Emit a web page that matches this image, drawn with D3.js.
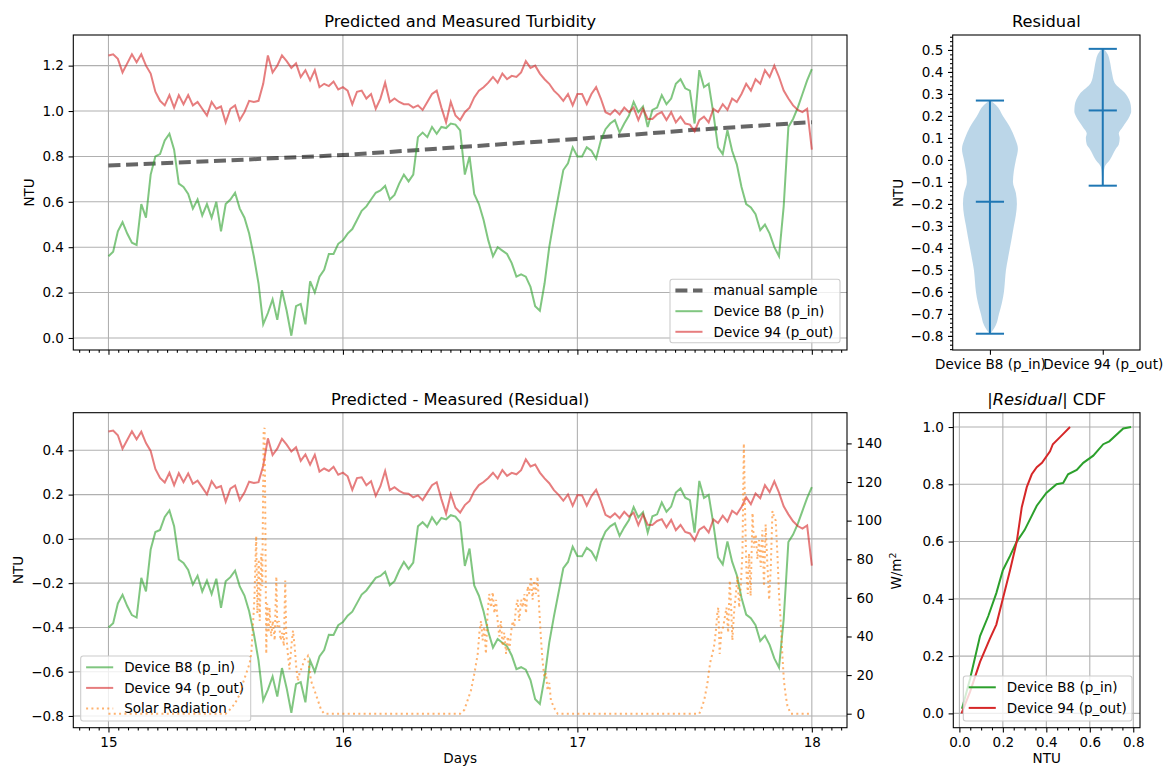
<!DOCTYPE html>
<html>
<head>
<meta charset="utf-8">
<script src="https://cdn.jsdelivr.net/npm/d3@7"></script>
<style>
  body { margin: 0; background: #fff; }
  svg { font-family: "DejaVu Sans", sans-serif; font-size: 13.5px; }
</style>
</head>
<body>
<div id="chart"></div>
<script>
// ---- data ----
// sample times, every 0.02 day from day 15 to day 18
const days = d3.range(151).map(i => 15 + i / 50);

const b8Ntu = [
  0.36,0.38,0.47,0.51,0.46,0.42,0.41,0.59,0.53,0.72, 0.80,0.81,0.87,0.90,0.83,0.68,0.665,0.635,0.57,0.61,
  0.54,0.59,0.53,0.60,0.47,0.59,0.61,0.64,0.57,0.53, 0.46,0.36,0.24,0.06,0.11,0.17,0.08,0.21,0.12,0.01,
  0.14,0.15,0.06,0.25,0.20,0.27,0.30,0.37,0.37,0.415, 0.43,
  0.46,0.48,0.52,0.56,0.58,0.61,0.64,0.65,0.67,0.61, 0.63,0.68,0.72,0.69,0.72,0.885,0.905,0.885,0.93,0.90,
  0.93,0.925,0.945,0.94,0.915,0.72,0.80,0.635,0.59,0.52, 0.43,0.36,0.40,0.385,0.37,0.33,0.27,0.28,0.27,0.225,
  0.14,0.12,0.24,0.40,0.52,0.63,0.74,0.77,0.84,0.80,
  0.80,0.84,0.825,0.79,0.87,0.92,0.945,0.96,0.905,0.945, 0.98,1.04,0.995,1.02,0.93,1.005,1.015,1.07,1.03,1.055,
  1.12,1.14,1.10,1.09,0.945,1.18,1.105,1.12,0.99,0.84, 0.81,0.915,0.825,0.765,0.665,0.59,0.575,0.545,0.475,0.50,
  0.46,0.40,0.36,0.58,0.93,0.965,1.015,1.075,1.135,1.185
];

const p94Ntu = [
  1.245,1.25,1.23,1.17,1.21,1.25,1.215,1.25,1.20,1.165, 1.085,1.045,1.025,1.07,1.015,1.07,1.03,1.07,1.025,1.04,
  1.01,0.98,1.04,1.01,1.02,0.95,1.01,1.025,0.96,0.995, 1.045,1.04,1.045,1.12,1.245,1.17,1.20,1.245,1.22,1.19,
  1.21,1.15,1.18,1.135,1.18,1.105,1.12,1.11,1.13,1.095, 1.105,
  1.09,1.03,1.085,1.09,1.055,1.075,1.01,1.055,1.125,1.04, 1.055,1.04,1.03,1.03,1.015,1.025,1.005,1.04,1.075,1.09,
  1.015,0.95,1.04,0.98,0.96,0.995,1.015,1.06,1.09,1.105, 1.125,1.15,1.125,1.165,1.14,1.155,1.15,1.17,1.22,1.19,
  1.20,1.165,1.14,1.12,1.09,1.07,1.045,1.075,1.025,1.075,
  1.075,1.03,1.075,1.105,1.055,0.995,0.985,1.005,0.985,1.015, 0.995,1.015,0.96,1.01,0.965,0.965,0.985,0.995,0.96,0.995,
  0.95,0.975,0.945,0.94,0.91,0.96,0.975,0.95,1.01,0.995, 1.03,1.005,1.055,1.04,1.075,1.12,1.09,1.14,1.12,1.18,
  1.15,1.20,1.15,1.09,1.055,1.025,1.005,0.995,1.01,0.83
];

const manualDays = [15, 15.5, 16, 16.5, 17, 17.5, 18];
const manualNtu = [0.76, 0.782, 0.806, 0.841, 0.877, 0.917, 0.951];

const solarDays = [
  15.00,15.50,15.517,15.538,15.56,15.574,15.588,15.602,15.609,15.616,15.623,15.63,15.635,15.641,15.645,15.652,
  15.656,15.662,15.666,15.669,15.673,15.677,15.683,15.687,15.694,15.701,15.709,15.716,15.72,15.727,15.734,15.741,
  15.748,15.754,15.758,15.765,15.772,15.78,15.787,15.794,15.801,15.808,15.815,15.825,15.836,15.85,15.857,15.864,
  15.879,15.893,15.907,15.92,
  16.50,16.518,16.532,16.546,16.561,16.575,16.582,16.589,16.596,16.603,16.61,16.617,16.624,16.632,16.639,16.646,
  16.653,16.66,16.667,16.674,16.681,16.688,16.696,16.703,16.71,16.717,16.724,16.731,16.738,16.745,16.752,16.76,
  16.767,16.774,16.781,16.788,16.795,16.802,16.809,16.816,16.823,16.83,16.837,16.844,16.851,16.859,16.866,16.873,
  16.88,16.887,16.901,16.916,
  17.52,17.527,17.541,17.555,17.562,17.569,17.576,17.583,17.59,17.597,17.601,17.607,17.614,17.622,17.629,17.636,
  17.643,17.65,17.656,17.661,17.668,17.676,17.683,17.69,17.697,17.704,17.71,17.716,17.721,17.727,17.732,17.739,
  17.747,17.754,17.761,17.768,17.775,17.782,17.789,17.796,17.803,17.81,17.818,17.825,17.832,17.839,17.846,17.853,
  17.86,17.867,17.874,17.881,17.889,17.896,17.91,18.00
];
const solarWm2 = [
  0,0,2,5,10,16,21,26,31,45,61,92,52,80,48,83,
  66,147,148,100,31,57,42,55,40,48,38,71,45,48,38,42,
  35,69,42,31,23,35,43,35,24,17,21,24,28,30,23,17,
  12,7,2,0,
  0,2,7,12,21,31,42,48,38,45,31,52,62,55,63,52,
  59,48,40,48,35,42,31,40,33,42,48,45,55,59,48,59,
  55,62,52,66,62,71,59,69,62,71,55,40,28,19,21,12,
  16,7,3,0,
  0,2,7,16,23,28,31,35,42,52,55,31,42,45,50,55,
  42,69,55,38,52,62,71,55,66,83,140,100,74,62,83,61,
  104,86,93,80,90,76,95,66,98,78,59,76,105,102,100,83,
  62,48,31,17,9,4,0,0
];

// violin outlines: NTU level and half width (in x units) of each body
const violinB8Ntu = [0.27,0.25,0.2,0.15,0.1,0.05,0,-0.05,-0.1,-0.15,-0.2,-0.25,-0.3,-0.35,-0.4,-0.45,-0.5,-0.55,-0.6,-0.65,-0.7,-0.75,-0.79];
const violinB8Half = [0.004,0.053,0.115,0.177,0.221,0.248,0.230,0.212,0.204,0.230,0.239,0.230,0.212,0.195,0.177,0.159,0.142,0.133,0.124,0.106,0.080,0.053,0.004];
const violin94Ntu = [0.505,0.48,0.45,0.4,0.35,0.3,0.25,0.22,0.2,0.15,0.12,0.1,0.07,0.05,0.0,-0.03,-0.06,-0.117];
const violin94Half = [0.009,0.044,0.062,0.080,0.106,0.204,0.248,0.252,0.239,0.177,0.142,0.150,0.142,0.115,0.062,0.018,0.009,0.004];
const violinMin = [-0.79, -0.117];
const violinMax = [0.27, 0.505];
const violinMean = [-0.19, 0.225];

// |residual| CDF curves
const cdfB8Ntu = [0.012,0.049,0.095,0.133,0.17,0.2,0.233,0.264,0.30,0.356,0.40,0.447,0.478,0.50,0.54,0.57,0.616,0.662,0.69,0.754,0.79];
const cdfB8P = [0.016,0.12,0.27,0.34,0.42,0.50,0.55,0.60,0.64,0.725,0.77,0.80,0.805,0.835,0.85,0.875,0.90,0.94,0.95,0.995,1.0];
const cdf94Ntu = [0.01,0.049,0.095,0.14,0.17,0.2,0.233,0.264,0.287,0.31,0.333,0.356,0.38,0.417,0.43,0.47,0.509];
const cdf94P = [0.0,0.075,0.18,0.26,0.31,0.40,0.50,0.60,0.72,0.79,0.835,0.86,0.875,0.915,0.94,0.97,1.0];

// tick labels
const dayTicks = [15, 16, 17, 18];
const topNtuTicks = [0, 0.2, 0.4, 0.6, 0.8, 1.0, 1.2];
const residualTicks = [-0.8, -0.6, -0.4, -0.2, 0, 0.2, 0.4];
const solarTicks = [0, 20, 40, 60, 80, 100, 120, 140];
const violinTicks = [-0.8, -0.7, -0.6, -0.5, -0.4, -0.3, -0.2, -0.1, 0, 0.1, 0.2, 0.3, 0.4, 0.5];
const cdfXTicks = [0, 0.2, 0.4, 0.6, 0.8];
const cdfYTicks = [0, 0.2, 0.4, 0.6, 0.8, 1.0];
const deviceNames = ["Device B8 (p_in)", "Device 94 (p_out)"];

// residual = predicted - manual sample
const manualAt = d3.scaleLinear().domain(manualDays).range(manualNtu);
const b8Residual = b8Ntu.map((v, i) => v - manualAt(days[i]));
const p94Residual = p94Ntu.map((v, i) => v - manualAt(days[i]));

// ---- drawing ----
const W = 1169, H = 767;
const GREEN = "#2ca02c", RED = "#d62728", BLUE = "#1f77b4", ORANGE = "#ff7f0e";
const TICK = 4.7, MINOR = 2.7, PAD = 4.7, LW = 1.08;

const svg = d3.select("#chart").append("svg")
  .attr("width", W).attr("height", H)
  .style("background", "#fff");

const tl = { x0: 73.3, x1: 847, y0: 35, y1: 350 };
const tr = { x0: 952.7, x1: 1140, y0: 35, y1: 350 };
const bl = { x0: 73.3, x1: 847, y0: 412.7, y1: 727.7 };
const br = { x0: 953.3, x1: 1140, y0: 412.7, y1: 727.7 };

function axis(gen, tx, ty, size, fmt) {
  const g = svg.append("g").attr("transform", `translate(${tx},${ty})`)
    .call(gen.tickSize(size).tickPadding(PAD).tickFormat(fmt));
  g.attr("font-family", null).attr("font-size", null);
  g.select(".domain").remove();
  g.selectAll(".tick line").attr("stroke", "#000").attr("stroke-width", LW);
  g.selectAll(".tick text").attr("fill", "#000");
  return g;
}

function gridX(x, ticks, p) {
  svg.append("g").selectAll("line").data(ticks).join("line")
    .attr("x1", d => x(d)).attr("x2", d => x(d))
    .attr("y1", p.y0).attr("y2", p.y1)
    .attr("stroke", "#b0b0b0").attr("stroke-width", LW);
}
function gridY(y, ticks, p) {
  svg.append("g").selectAll("line").data(ticks).join("line")
    .attr("y1", d => y(d)).attr("y2", d => y(d))
    .attr("x1", p.x0).attr("x2", p.x1)
    .attr("stroke", "#b0b0b0").attr("stroke-width", LW);
}
function frame(p) {
  svg.append("rect").attr("x", p.x0).attr("y", p.y0)
    .attr("width", p.x1 - p.x0).attr("height", p.y1 - p.y0)
    .attr("fill", "none").attr("stroke", "#000").attr("stroke-width", LW);
}
function title(p, txt) {
  return svg.append("text").attr("x", (p.x0 + p.x1) / 2).attr("y", p.y0 - 7.7)
    .attr("text-anchor", "middle").style("font-size", "16.25px").text(txt);
}
function yLabel(x, y, txt) {
  return svg.append("text").attr("transform", `translate(${x},${y}) rotate(-90)`)
    .attr("text-anchor", "middle").text(txt);
}
function legend(box, rows) {
  const g = svg.append("g");
  g.append("rect").attr("x", box.x).attr("y", box.y).attr("width", box.w).attr("height", box.h)
    .attr("rx", 2.5).attr("fill", "#fff").attr("fill-opacity", 0.8)
    .attr("stroke", "#cccccc").attr("stroke-width", LW);
  rows.forEach((r, i) => {
    const cy = box.y + 11.3 + i * 20.6;
    g.append("line").attr("x1", box.x + 5.4).attr("x2", box.x + 32.5)
      .attr("y1", cy).attr("y2", cy)
      .attr("stroke", r.color).attr("stroke-opacity", r.opacity)
      .attr("stroke-width", r.width).attr("stroke-dasharray", r.dash || null);
    g.append("text").attr("x", box.x + 43.5).attr("y", cy).attr("dy", "0.36em").text(r.label);
  });
}
const fmt1 = d3.format(".1f");
const minorHours = d3.range(357, 436).filter(i => i % 24 !== 0).map(i => i / 24);

// ---------- top left: predicted and measured ----------
const xDay = d3.scaleLinear().domain([14.85, 18.15]).range([tl.x0, tl.x1]);
const yTop = d3.scaleLinear().domain([-0.053, 1.335]).range([tl.y1, tl.y0]);

gridX(xDay, dayTicks, tl);
gridY(yTop, topNtuTicks, tl);

const lineTop = d3.line().x((d, i) => xDay(days[i])).y(d => yTop(d));
svg.append("path").datum(manualNtu)
  .attr("d", d3.line().x((d, i) => xDay(manualDays[i])).y(d => yTop(d)))
  .attr("fill", "none").attr("stroke", "#000").attr("stroke-opacity", 0.6)
  .attr("stroke-width", 4).attr("stroke-dasharray", "12,5.6");
svg.append("path").datum(b8Ntu).attr("d", lineTop)
  .attr("fill", "none").attr("stroke", GREEN).attr("stroke-opacity", 0.6).attr("stroke-width", 2);
svg.append("path").datum(p94Ntu).attr("d", lineTop)
  .attr("fill", "none").attr("stroke", RED).attr("stroke-opacity", 0.6).attr("stroke-width", 2);

axis(d3.axisBottom(xDay).tickValues(dayTicks), 0, tl.y1, TICK, () => "");
axis(d3.axisBottom(xDay).tickValues(minorHours), 0, tl.y1, MINOR, () => "");
axis(d3.axisLeft(yTop).tickValues(topNtuTicks), tl.x0, 0, TICK, fmt1);
frame(tl);
title(tl, "Predicted and Measured Turbidity");
yLabel(34.3, (tl.y0 + tl.y1) / 2, "NTU");
legend({ x: 670, y: 279.3, w: 170, h: 63.4 }, [
  { label: "manual sample", color: "#000", opacity: 0.6, width: 4, dash: "12,5.6" },
  { label: deviceNames[0], color: GREEN, opacity: 0.6, width: 2 },
  { label: deviceNames[1], color: RED, opacity: 0.6, width: 2 }
]);

// ---------- bottom left: residual + solar radiation ----------
const xDayB = d3.scaleLinear().domain([14.85, 18.15]).range([bl.x0, bl.x1]);
const yRes = d3.scaleLinear().domain([-0.853, 0.570]).range([bl.y1, bl.y0]);
const ySolar = d3.scaleLinear().domain([-7.25, 155.9]).range([bl.y1, bl.y0]);

gridX(xDayB, dayTicks, bl);
gridY(yRes, residualTicks, bl);

const lineRes = d3.line().x((d, i) => xDayB(days[i])).y(d => yRes(d));
svg.append("path").datum(b8Residual).attr("d", lineRes)
  .attr("fill", "none").attr("stroke", GREEN).attr("stroke-opacity", 0.6).attr("stroke-width", 2);
svg.append("path").datum(p94Residual).attr("d", lineRes)
  .attr("fill", "none").attr("stroke", RED).attr("stroke-opacity", 0.6).attr("stroke-width", 2);

legend({ x: 80.7, y: 656, w: 170, h: 65 }, [
  { label: deviceNames[0], color: GREEN, opacity: 0.6, width: 2 },
  { label: deviceNames[1], color: RED, opacity: 0.6, width: 2 },
  { label: "Solar Radiation", color: ORANGE, opacity: 0.6, width: 2, dash: "2,3.3" }
]);

svg.append("path").datum(solarWm2)
  .attr("d", d3.line().x((d, i) => xDayB(solarDays[i])).y(d => ySolar(d)))
  .attr("fill", "none").attr("stroke", ORANGE).attr("stroke-opacity", 0.6)
  .attr("stroke-width", 2).attr("stroke-dasharray", "2,3.3");

axis(d3.axisBottom(xDayB).tickValues(dayTicks), 0, bl.y1, TICK, d3.format("d"));
axis(d3.axisBottom(xDayB).tickValues(minorHours), 0, bl.y1, MINOR, () => "");
axis(d3.axisLeft(yRes).tickValues(residualTicks), bl.x0, 0, TICK, fmt1);
axis(d3.axisRight(ySolar).tickValues(solarTicks), bl.x1, 0, TICK, d3.format("d"));
frame(bl);
title(bl, "Predicted - Measured (Residual)");
yLabel(23.3, 570, "NTU");
const wm = svg.append("text").attr("transform", `translate(900.5,571) rotate(-90)`).attr("text-anchor", "middle");
wm.append("tspan").text("W/m");
wm.append("tspan").attr("dy", "-0.45em").style("font-size", "9.5px").text("2");
svg.append("text").attr("x", (bl.x0 + bl.x1) / 2).attr("y", 763.3).attr("text-anchor", "middle").text("Days");

// ---------- top right: residual violins ----------
const xViolin = d3.scaleLinear().domain([0.67, 2.33]).range([tr.x0, tr.x1]);
const yViolin = d3.scaleLinear().domain([-0.864, 0.568]).range([tr.y1, tr.y0]);
const violins = [
  { pos: 1, ntu: violinB8Ntu, half: violinB8Half },
  { pos: 2, ntu: violin94Ntu, half: violin94Half }
];
violins.forEach((v, k) => {
  const pts = v.ntu.map((n, i) => ({ n, h: v.half[i] }));
  svg.append("path").datum(pts)
    .attr("d", d3.area().curve(d3.curveMonotoneY)
      .y(d => yViolin(d.n))
      .x0(d => xViolin(v.pos - d.h))
      .x1(d => xViolin(v.pos + d.h)))
    .attr("fill", BLUE).attr("fill-opacity", 0.3);
  const g = svg.append("g").attr("stroke", BLUE).attr("stroke-width", 2);
  g.append("line").attr("x1", xViolin(v.pos)).attr("x2", xViolin(v.pos))
    .attr("y1", yViolin(violinMin[k])).attr("y2", yViolin(violinMax[k]));
  [violinMin[k], violinMax[k], violinMean[k]].forEach(val => {
    g.append("line").attr("x1", xViolin(v.pos - 0.125)).attr("x2", xViolin(v.pos + 0.125))
      .attr("y1", yViolin(val)).attr("y2", yViolin(val));
  });
});
const violinMinor = d3.range(-43, 29).map(i => i / 50);
axis(d3.axisLeft(yViolin).tickValues(violinMinor), tr.x0, 0, MINOR, () => "");
axis(d3.axisLeft(yViolin).tickValues(violinTicks), tr.x0, 0, TICK, fmt1);
axis(d3.axisBottom(xViolin).tickValues([1, 2]), 0, tr.y1, TICK, d => deviceNames[d - 1]);
frame(tr);
title(tr, "Residual");
yLabel(903.3, 193, "NTU");

// ---------- bottom right: |residual| CDF ----------
const xCdf = d3.scaleLinear().domain([-0.028, 0.831]).range([br.x0, br.x1]);
const yCdf = d3.scaleLinear().domain([-0.05, 1.05]).range([br.y1, br.y0]);
gridX(xCdf, cdfXTicks, br);
gridY(yCdf, cdfYTicks, br);
[[cdfB8Ntu, cdfB8P, GREEN], [cdf94Ntu, cdf94P, RED]].forEach(([xs, ps, c]) => {
  svg.append("path").datum(ps)
    .attr("d", d3.line().x((d, i) => xCdf(xs[i])).y(d => yCdf(d)))
    .attr("fill", "none").attr("stroke", c).attr("stroke-width", 2);
});
const cdfMinor = d3.range(0, 17).filter(i => i % 4 !== 0).map(i => i / 20);
axis(d3.axisBottom(xCdf).tickValues(cdfMinor), 0, br.y1, MINOR, () => "");
axis(d3.axisBottom(xCdf).tickValues(cdfXTicks), 0, br.y1, TICK, fmt1);
axis(d3.axisLeft(yCdf).tickValues(cdfYTicks), br.x0, 0, TICK, fmt1);
frame(br);
const ct = title(br, "");
ct.append("tspan").text("|");
ct.append("tspan").style("font-style", "italic").text("Residual");
ct.append("tspan").text("| CDF");
svg.append("text").attr("x", (br.x0 + br.x1) / 2).attr("y", 763.3).attr("text-anchor", "middle").text("NTU");
legend({ x: 963.3, y: 676, w: 168.7, h: 45 }, [
  { label: deviceNames[0], color: GREEN, opacity: 1, width: 2 },
  { label: deviceNames[1], color: RED, opacity: 1, width: 2 }
]);
</script>
</body>
</html>
